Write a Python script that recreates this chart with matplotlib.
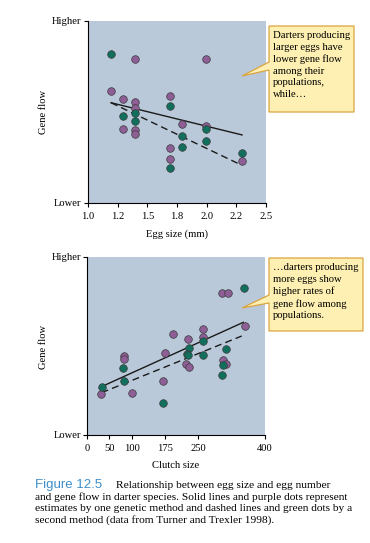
import matplotlib
matplotlib.use("Agg")
import matplotlib.pyplot as plt
from matplotlib.patches import Polygon

plt.rcParams['font.family'] = ['Liberation Serif', 'DejaVu Serif']

# egg size panel (gene flow on a 0 = lower, 1 = higher scale)
egg_purple_x = [1.396, 1.992, 1.194, 1.292, 1.396, 1.396, 1.295, 1.396, 1.396,
                1.691, 1.795, 1.691, 1.691, 1.992, 2.298]
egg_purple_y = [0.793, 0.793, 0.617, 0.570, 0.555, 0.522, 0.407, 0.401, 0.379,
                0.586, 0.432, 0.300, 0.242, 0.425, 0.231]
egg_green_x = [1.191, 1.396, 1.295, 1.396, 1.691, 1.795, 1.795, 1.691, 1.992,
               1.992, 2.298]
egg_green_y = [0.819, 0.493, 0.480, 0.451, 0.531, 0.370, 0.306, 0.190, 0.407,
               0.339, 0.273]
egg_solid_x = [1.194, 2.298]
egg_solid_y = [0.551, 0.374]
egg_dash_x = [1.194, 2.275]
egg_dash_y = [0.551, 0.214]
egg_ticks = [1.0, 1.25, 1.5, 1.75, 2.0, 2.25, 2.5]
egg_ticklabels = ['1.0', '1.2', '1.5', '1.8', '2.0', '2.2', '2.5']

# clutch size panel
cl_purple_x = [302.6, 316.1, 354.3, 192.5, 260.7, 260.7, 227.0, 222.5, 228.5,
               304.9, 311.6, 176.0, 82.4, 82.4, 171.5, 30.7, 100.4]
cl_purple_y = [0.796, 0.796, 0.612, 0.569, 0.594, 0.552, 0.539, 0.397, 0.382,
               0.421, 0.401, 0.463, 0.446, 0.429, 0.301, 0.228, 0.236]
cl_green_x = [353.6, 260.7, 228.5, 224.0, 227.7, 260.7, 312.4, 304.9, 303.4,
              80.9, 82.4, 33.0, 171.5]
cl_green_y = [0.824, 0.526, 0.491, 0.457, 0.449, 0.449, 0.481, 0.395, 0.335,
              0.375, 0.303, 0.272, 0.178]
cl_solid_x = [33.0, 351.3]
cl_solid_y = [0.272, 0.633]
cl_dash_x = [33.0, 347.6]
cl_dash_y = [0.238, 0.556]
cl_ticks = [0, 50, 100, 175, 250, 400]

note_top = "Darters producing\nlarger eggs have\nlower gene flow\namong their\npopulations,\nwhile\u2026"
note_bottom = "\u2026darters producing\nmore eggs show\nhigher rates of\ngene flow among\npopulations."
caption = ("and gene flow in darter species. Solid lines and purple dots represent\n"
           "estimates by one genetic method and dashed lines and green dots by a\n"
           "second method (data from Turner and Trexler 1998).")

W, H = 370, 543
BG = '#b9c9d9'
PURPLE = '#8e5e96'
GREEN = '#11705d'
FS = 7.6

fig = plt.figure(figsize=(W / 100, H / 100), dpi=100)


def px_axes(left, top, right, bottom):
    return fig.add_axes([left / W, 1 - bottom / H, (right - left) / W, (bottom - top) / H])


def style(ax, xs, xlabels, xlim, xlabel, label_y):
    ax.set_facecolor(BG)
    ax.set_xlim(*xlim)
    ax.set_ylim(0, 1)
    for s in ['top', 'right']:
        ax.spines[s].set_visible(False)
    ax.spines['left'].set_linewidth(0.8)
    ax.spines['bottom'].set_linewidth(0.8)
    ax.set_xticks(xs)
    ax.set_xticklabels(xlabels, fontsize=FS)
    ax.set_yticks([0, 1])
    ax.set_yticklabels(['Lower', 'Higher'], fontsize=FS)
    ax.tick_params(length=3, width=0.8, pad=1.5)
    ax.tick_params(axis='x', pad=3.5)
    ax.set_xlabel(xlabel, fontsize=FS, labelpad=6)
    fig.text(43 / W, 1 - label_y / H, 'Gene flow', rotation=90, fontsize=FS,
             ha='center', va='center')


def dots(ax, x, y, c):
    ax.scatter(x, y, s=30, color=c, edgecolor='#3a3a3a', linewidth=0.5, zorder=3,
               clip_on=False)


def callout(text, x0, y0, x1, y1, tip, base):
    pts = [(x0, y0), (x1, y0), (x1, y1), (x0, y1), (x0, base[1]), tip, (x0, base[0])]
    pts = [(x / W, 1 - y / H) for x, y in pts]
    fig.patches.append(Polygon(pts, closed=True, transform=fig.transFigure,
                               facecolor='#fdf0b2', edgecolor='#d9a441', linewidth=0.9,
                               zorder=5))
    fig.text((x0 + 4) / W, 1 - (y0 + 5) / H, text, fontsize=7.7, ha='left', va='top',
             linespacing=1.37, zorder=6)


ax1 = px_axes(88, 21, 266, 203)
style(ax1, egg_ticks, egg_ticklabels, (1.0, 2.5), 'Egg size (mm)', 112)
ax1.plot(egg_solid_x, egg_solid_y, color='#1a1a1a', lw=1.0, zorder=2)
ax1.plot(egg_dash_x, egg_dash_y, color='#1a1a1a', lw=1.0, ls=(0, (5, 3)), zorder=2)
dots(ax1, egg_purple_x, egg_purple_y, PURPLE)
dots(ax1, egg_green_x, egg_green_y, GREEN)

ax2 = px_axes(87, 257, 265, 435)
style(ax2, cl_ticks, [str(t) for t in cl_ticks], (0, 400), 'Clutch size', 347)
ax2.plot(cl_solid_x, cl_solid_y, color='#1a1a1a', lw=1.0, zorder=2)
ax2.plot(cl_dash_x, cl_dash_y, color='#1a1a1a', lw=1.0, ls=(0, (5, 3)), zorder=2)
dots(ax2, cl_purple_x, cl_purple_y, PURPLE)
dots(ax2, cl_green_x, cl_green_y, GREEN)

callout(note_top, 269, 26, 354, 112, (242, 76), (62, 70))
callout(note_bottom, 269, 258, 363, 331, (242, 308), (295, 303))

fig.text(35 / W, 1 - 485 / H, 'Figure 12.5', family='Liberation Sans', fontsize=9.5,
         color='#3d8fc9', ha='left', va='center')
fig.text(116 / W, 1 - 486 / H, 'Relationship between egg size and egg number',
         fontsize=8.2, ha='left', va='center')
fig.text(35 / W, 1 - 492 / H, caption, fontsize=8.2, ha='left', va='top',
         linespacing=1.31)

fig.savefig('out.png', dpi=100, facecolor='white')
